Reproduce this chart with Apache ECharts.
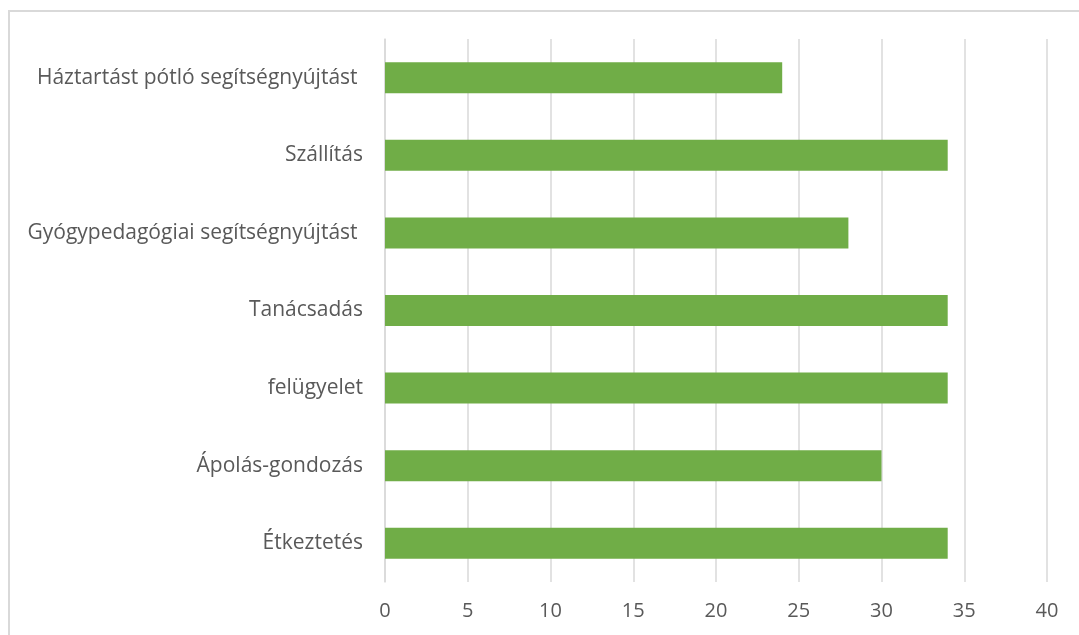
<!DOCTYPE html>
<html>
<head>
<meta charset="utf-8">
<script src="https://cdn.jsdelivr.net/npm/echarts@6/dist/echarts.min.js"></script>
<style>
  html, body { margin: 0; padding: 0; background: #ffffff; }
  #chart { width: 1079px; height: 635px; }
</style>
</head>
<body>
<div id="chart"></div>
<script>
// Service categories, listed bottom to top
const categories = [
  'Étkeztetés',
  'Ápolás-gondozás',
  'felügyelet',
  'Tanácsadás',
  'Gyógypedagógiai segítségnyújtást ',
  'Szállítás',
  'Háztartást pótló segítségnyújtást '
];
const values = [34, 30, 34, 34, 28, 34, 24];
const axisMin = 0;
const axisMax = 40;
const axisStep = 5;

const chart = echarts.init(document.getElementById('chart'), null, { renderer: 'canvas' });

chart.setOption({
  backgroundColor: '#ffffff',
  animation: false,
  graphic: [{
    type: 'rect',
    shape: { x: 9, y: 11, width: 1200, height: 1000 },
    style: { fill: 'none', stroke: '#d9d9d9', lineWidth: 2 },
    silent: true
  }],
  grid: { left: 385, right: 32, top: 39, bottom: 53, containLabel: false },
  xAxis: {
    type: 'value',
    min: axisMin,
    max: axisMax,
    interval: axisStep,
    axisLine: { show: false },
    axisTick: { show: false },
    splitLine: { show: true, lineStyle: { color: '#d9d9d9', width: 1.5 } },
    axisLabel: {
      color: '#595959',
      fontFamily: 'Open Sans',
      fontSize: 20,
      margin: 19
    }
  },
  yAxis: {
    type: 'category',
    data: categories,
    axisLine: { show: true, lineStyle: { color: '#d9d9d9', width: 1.5 } },
    axisTick: { show: false },
    axisLabel: {
      color: '#595959',
      fontFamily: 'Open Sans',
      fontSize: 21,
      margin: 22
    }
  },
  series: [{
    type: 'bar',
    data: values,
    barWidth: 31,
    itemStyle: { color: '#70ad47' }
  }]
});
</script>
</body>
</html>
